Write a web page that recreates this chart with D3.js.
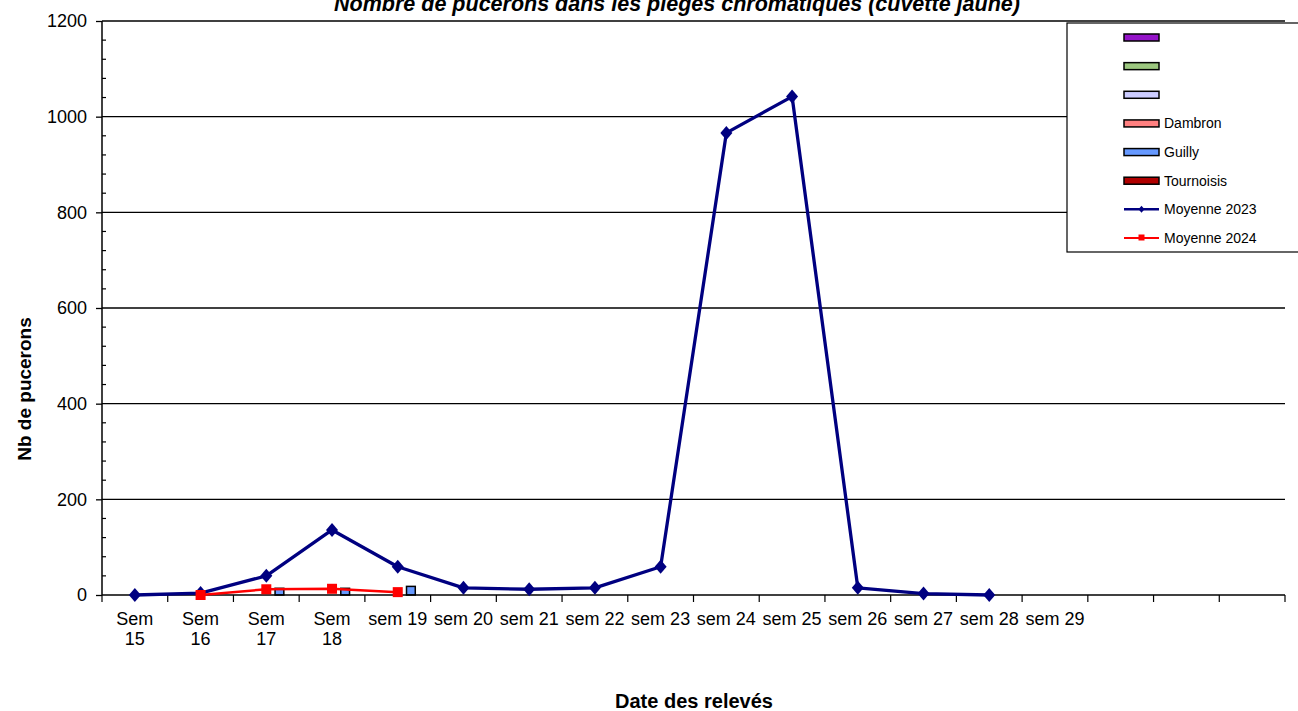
<!DOCTYPE html>
<html><head><meta charset="utf-8">
<script src="https://cdn.jsdelivr.net/npm/d3@7/dist/d3.min.js"></script>
<style>
html,body{margin:0;padding:0;background:#fff;overflow:hidden}
svg{display:block;font-family:"Liberation Sans",Arial,sans-serif}
</style></head><body>
<svg id="chart" width="1298" height="711"></svg>
<script>
// ---- data ----
const categories = ["Sem\n15","Sem\n16","Sem\n17","Sem\n18","sem 19","sem 20","sem 21","sem 22","sem 23","sem 24","sem 25","sem 26","sem 27","sem 28","sem 29","","",""];
const barSeries = ["", "", "", "Dambron", "Guilly", "Tournoisis"];
const barColors = ["#9414C8", "#9CC77F", "#CCCCFF", "#FF8080", "#6699FF", "#B00000"];
const valsPurple   = [null,null,null,null,null,null,null,null,null,null,null,null,null,null,null,null,null,null];
const valsGreen    = [null,null,null,null,null,null,null,null,null,null,null,null,null,null,null,null,null,null];
const valsLavender = [null,null,null,null,null,null,null,null,null,null,null,null,null,null,null,null,null,null];
const valsDambron  = [null,0,0,0,0,null,null,null,null,null,null,null,null,null,null,null,null,null];
const valsGuilly   = [null,0,14,14,18,null,null,null,null,null,null,null,null,null,null,null,null,null];
const valsTournoisis=[null,0,0,0,0,null,null,null,null,null,null,null,null,null,null,null,null,null];
const moyenne2023  = [0,4,40,136,59,15,12,15,59,966,1042,15,3,0,null,null,null,null];
const moyenne2024  = [null,0,12,13,6,null,null,null,null,null,null,null,null,null,null,null,null,null];
const yTicks = [0,200,400,600,800,1000,1200];
const titleText = "Nombre de pucerons dans les pièges chromatiques (cuvette jaune)";
const yTitle = "Nb de pucerons";
const xTitle = "Date des relevés";

// ---- layout ----
const svg = d3.select("#chart");
const L = 102, R = 1285, T = 21, B = 595;
const x = d3.scaleBand().domain(d3.range(categories.length)).range([L, R]).padding(0);
const y = d3.scaleLinear().domain([0, 1200]).range([B, T]);
const bw = x.bandwidth();
const barW = bw / 7.5;
const inner = d3.scaleBand().domain(d3.range(barSeries.length)).range([-3 * barW, 3 * barW]).padding(0);

// gridlines
svg.append("g").selectAll("line").data(yTicks.filter(d => d > 0)).join("line")
  .attr("x1", L).attr("x2", R).attr("y1", d => y(d)).attr("y2", d => y(d))
  .attr("stroke", "#000").attr("stroke-width", 1.3);

// bars
const barData = [valsPurple, valsGreen, valsLavender, valsDambron, valsGuilly, valsTournoisis];
barData.forEach((vals, si) => {
  svg.append("g").selectAll("rect").data(vals.map((v, i) => ({v, i})).filter(d => d.v != null && d.v > 0)).join("rect")
    .attr("x", d => x(d.i) + bw / 2 + inner(si))
    .attr("width", inner.bandwidth())
    .attr("y", d => y(d.v))
    .attr("height", d => y(0) - y(d.v))
    .attr("fill", barColors[si]).attr("stroke", "#000").attr("stroke-width", 1.5);
});

// y axis
const yAxis = d3.axisLeft(y).tickValues(yTicks).tickSize(6).tickPadding(9).tickFormat(d3.format("d"));
const yg = svg.append("g").attr("transform", `translate(${L},0)`).call(yAxis);
yg.select(".domain").remove();
yg.selectAll(".tick line").attr("stroke", "#000").attr("stroke-width", 1.3);
yg.selectAll(".tick text").attr("font-size", 18).attr("fill", "#000").attr("font-family", "Liberation Sans, Arial, sans-serif");
// minor ticks
const minor = d3.range(0, 1201, 40).filter(d => d % 200 !== 0);
svg.append("g").selectAll("line").data(minor).join("line")
  .attr("x1", L).attr("x2", L + 4).attr("y1", d => y(d)).attr("y2", d => y(d))
  .attr("stroke", "#000").attr("stroke-width", 1.2);
svg.append("line").attr("x1", L).attr("x2", L).attr("y1", T).attr("y2", B).attr("stroke", "#000").attr("stroke-width", 1.5);

// x axis
svg.append("line").attr("x1", L).attr("x2", R).attr("y1", B).attr("y2", B).attr("stroke", "#000").attr("stroke-width", 1.5);
const bounds = d3.range(categories.length + 1).map(i => L + i * bw);
svg.append("g").selectAll("line").data(bounds).join("line")
  .attr("x1", d => d).attr("x2", d => d).attr("y1", B).attr("y2", B + 7)
  .attr("stroke", "#000").attr("stroke-width", 1.2);
const xl = svg.append("g").selectAll("text").data(categories.map((c, i) => ({c, i}))).join("text")
  .attr("x", d => x(d.i) + bw / 2).attr("y", 625)
  .attr("text-anchor", "middle").attr("font-size", 18).attr("fill", "#000");
xl.each(function(d) {
  const lines = d.c.split("\n");
  d3.select(this).selectAll("tspan").data(lines).join("tspan")
    .attr("x", x(d.i) + bw / 2).attr("dy", (l, k) => k === 0 ? 0 : 20).text(l => l);
});

// lines
const cx = i => x(i) + bw / 2;
const line = d3.line().defined(d => d.v != null).x(d => cx(d.i)).y(d => y(d.v));
const d23 = moyenne2023.map((v, i) => ({v, i}));
const d24 = moyenne2024.map((v, i) => ({v, i}));
svg.append("path").datum(d23).attr("d", line).attr("fill", "none").attr("stroke", "#000080").attr("stroke-width", 3.3).attr("stroke-linejoin", "round");
const diamond = "M0,-7L6,0L0,7L-6,0Z";
svg.append("g").selectAll("path").data(d23.filter(d => d.v != null)).join("path")
  .attr("d", diamond).attr("transform", d => `translate(${cx(d.i)},${y(d.v)})`).attr("fill", "#000080");
svg.append("path").datum(d24).attr("d", line).attr("fill", "none").attr("stroke", "#FF0000").attr("stroke-width", 2.5);
svg.append("g").selectAll("rect").data(d24.filter(d => d.v != null)).join("rect")
  .attr("x", d => cx(d.i) - 5).attr("y", d => y(d.v) - 5).attr("width", 10).attr("height", 10).attr("fill", "#FF0000");

// title
svg.append("text").attr("x", 677).attr("y", 11).attr("text-anchor", "middle")
  .attr("font-size", 21.5).attr("font-weight", "bold").attr("font-style", "italic").text(titleText);
// axis titles
svg.append("text").attr("transform", "translate(24,389) rotate(-90)").attr("text-anchor", "middle")
  .attr("dominant-baseline", "central")
  .attr("font-size", 19).attr("font-weight", "bold").text(yTitle);
svg.append("text").attr("x", 694).attr("y", 708).attr("text-anchor", "middle")
  .attr("font-size", 20).attr("font-weight", "bold").text(xTitle);

// legend
const lg = svg.append("g");
lg.append("rect").attr("x", 1067).attr("y", 23).attr("width", 260).attr("height", 229).attr("fill", "#fff").attr("stroke", "#000").attr("stroke-width", 1.2);
const legendItems = barSeries.map((n, i) => ({name: n, type: "bar", color: barColors[i]}))
  .concat([{name: "Moyenne 2023", type: "l23", color: "#000080"}, {name: "Moyenne 2024", type: "l24", color: "#FF0000"}]);
const ly = d3.scalePoint().domain(d3.range(legendItems.length)).range([37.5, 238]);
legendItems.forEach((it, i) => {
  const yy = ly(i);
  if (it.type === "bar") {
    lg.append("rect").attr("x", 1124).attr("y", yy - 3.5).attr("width", 35).attr("height", 7)
      .attr("fill", it.color).attr("stroke", "#000").attr("stroke-width", 1.5);
  } else {
    lg.append("line").attr("x1", 1124).attr("x2", 1159).attr("y1", yy).attr("y2", yy).attr("stroke", it.color).attr("stroke-width", it.type === "l23" ? 2.5 : 2);
    if (it.type === "l23") lg.append("path").attr("d", "M0,-3.5L3,0L0,3.5L-3,0Z").attr("transform", `translate(1141.5,${yy})`).attr("fill", it.color);
    else lg.append("rect").attr("x", 1138.5).attr("y", yy - 3.5).attr("width", 6).attr("height", 6).attr("fill", it.color);
  }
  if (it.name) lg.append("text").attr("x", 1164).attr("y", yy + 5).attr("font-size", 14).text(it.name);
});
</script>
</body></html>
